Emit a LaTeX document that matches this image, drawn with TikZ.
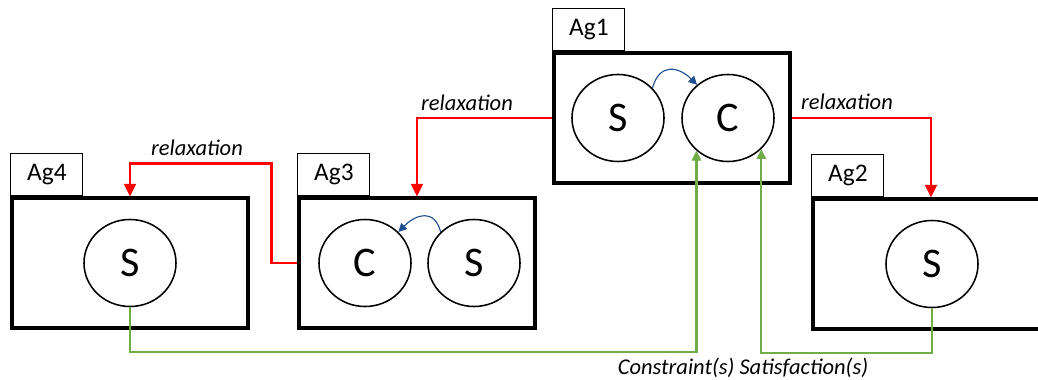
\documentclass[tikz,border=0pt]{standalone}
\usepackage{fontspec}
\setmainfont{Carlito}
\definecolor{RelaxRed}{RGB}{255,0,0}
\definecolor{SatGreen}{RGB}{112,173,71}
\definecolor{LinkBlue}{RGB}{31,78,145}
\usetikzlibrary{
    shapes.geometric,
    arrows.meta,
    positioning,
    calc,
}

\begin{document}
\begin{tikzpicture}[x=0.025cm, y=-0.025cm,
        agent/.style={draw, line width=2.2pt, minimum width=5.9cm, minimum height=3.25cm, inner sep=0},
        tab/.style={draw, line width=0.7pt, minimum width=1.8cm, minimum height=1.07cm, anchor=south west, inner sep=0, font=\fontsize{18}{21}\selectfont},
        role/.style={draw, ellipse, line width=1.1pt, minimum width=2.3cm, minimum height=2.175cm, inner sep=0, font=\fontsize{30}{36}\selectfont},
        relax/.style={RelaxRed, line width=1.8pt, -{Triangle[length=9pt, width=8.5pt]}},
        sat/.style={SatGreen, line width=1.6pt, -{Triangle[length=7pt, width=6.5pt]}},
        handoff/.style={LinkBlue, line width=0.8pt, -{Triangle[length=6pt, width=6pt]}},
        lbl/.style={font=\fontsize{16}{19}\selectfont\itshape}]
        \useasboundingbox (0,0) rectangle (1038,380);
        \clip (0,0) rectangle (1038,380);
        % agents
        \node[agent] (Ag1) at (672,118) {};
        \node[agent] (Ag3) at (417,263) {};
        \node[agent] (Ag4) at (130,263) {};
        \node[agent] (Ag2) at (931,264) {};
        \node[tab] (T1) at (Ag1.north west) {Ag1};
        \node[tab] (T3) at (Ag3.north west) {Ag3};
        \node[tab] (T4) at (Ag4.north west) {Ag4};
        \node[tab] (T2) at (Ag2.north west) {Ag2};
        % roles
        \node[role] (S1) at (618,118) {S};
        \node[role] (C1) at (728,118) {C};
        \node[role] (C3) at (365,263) {C};
        \node[role] (S3) at (474,263) {S};
        \node[role] (S4) at (130,263) {S};
        \node[role] (S2) at (932,264) {S};
        \draw[handoff] (S1.41) to[out=75, in=135, looseness=1.5] (C1.133);
        \draw[handoff] (S3.137) to[out=105, in=45, looseness=1.5] (C3.43);
        % relaxation
        \draw[relax] (Ag1.west) -| (Ag3.north);
        \draw[relax] (Ag1.east) -| (Ag2.north);
        \draw[relax] (Ag3.west) -- ++(-26,0) |- ($(Ag4.north)+(0,-33)$) -- (Ag4.north);
        \node[lbl] at (467,103) {relaxation};
        \node[lbl] at (197,148) {relaxation};
        \node[lbl] at (847,102) {relaxation};
        % satisfaction
        \draw[sat] (S4.south) -- ++(0,45) -| (C1.226);
        \draw[sat] (S2.south) -- ++(0,45) -| (C1.-43);
        \node[lbl] at (743,368) {Constraint(s) Satisfaction(s)};
    \end{tikzpicture}
\end{document}
